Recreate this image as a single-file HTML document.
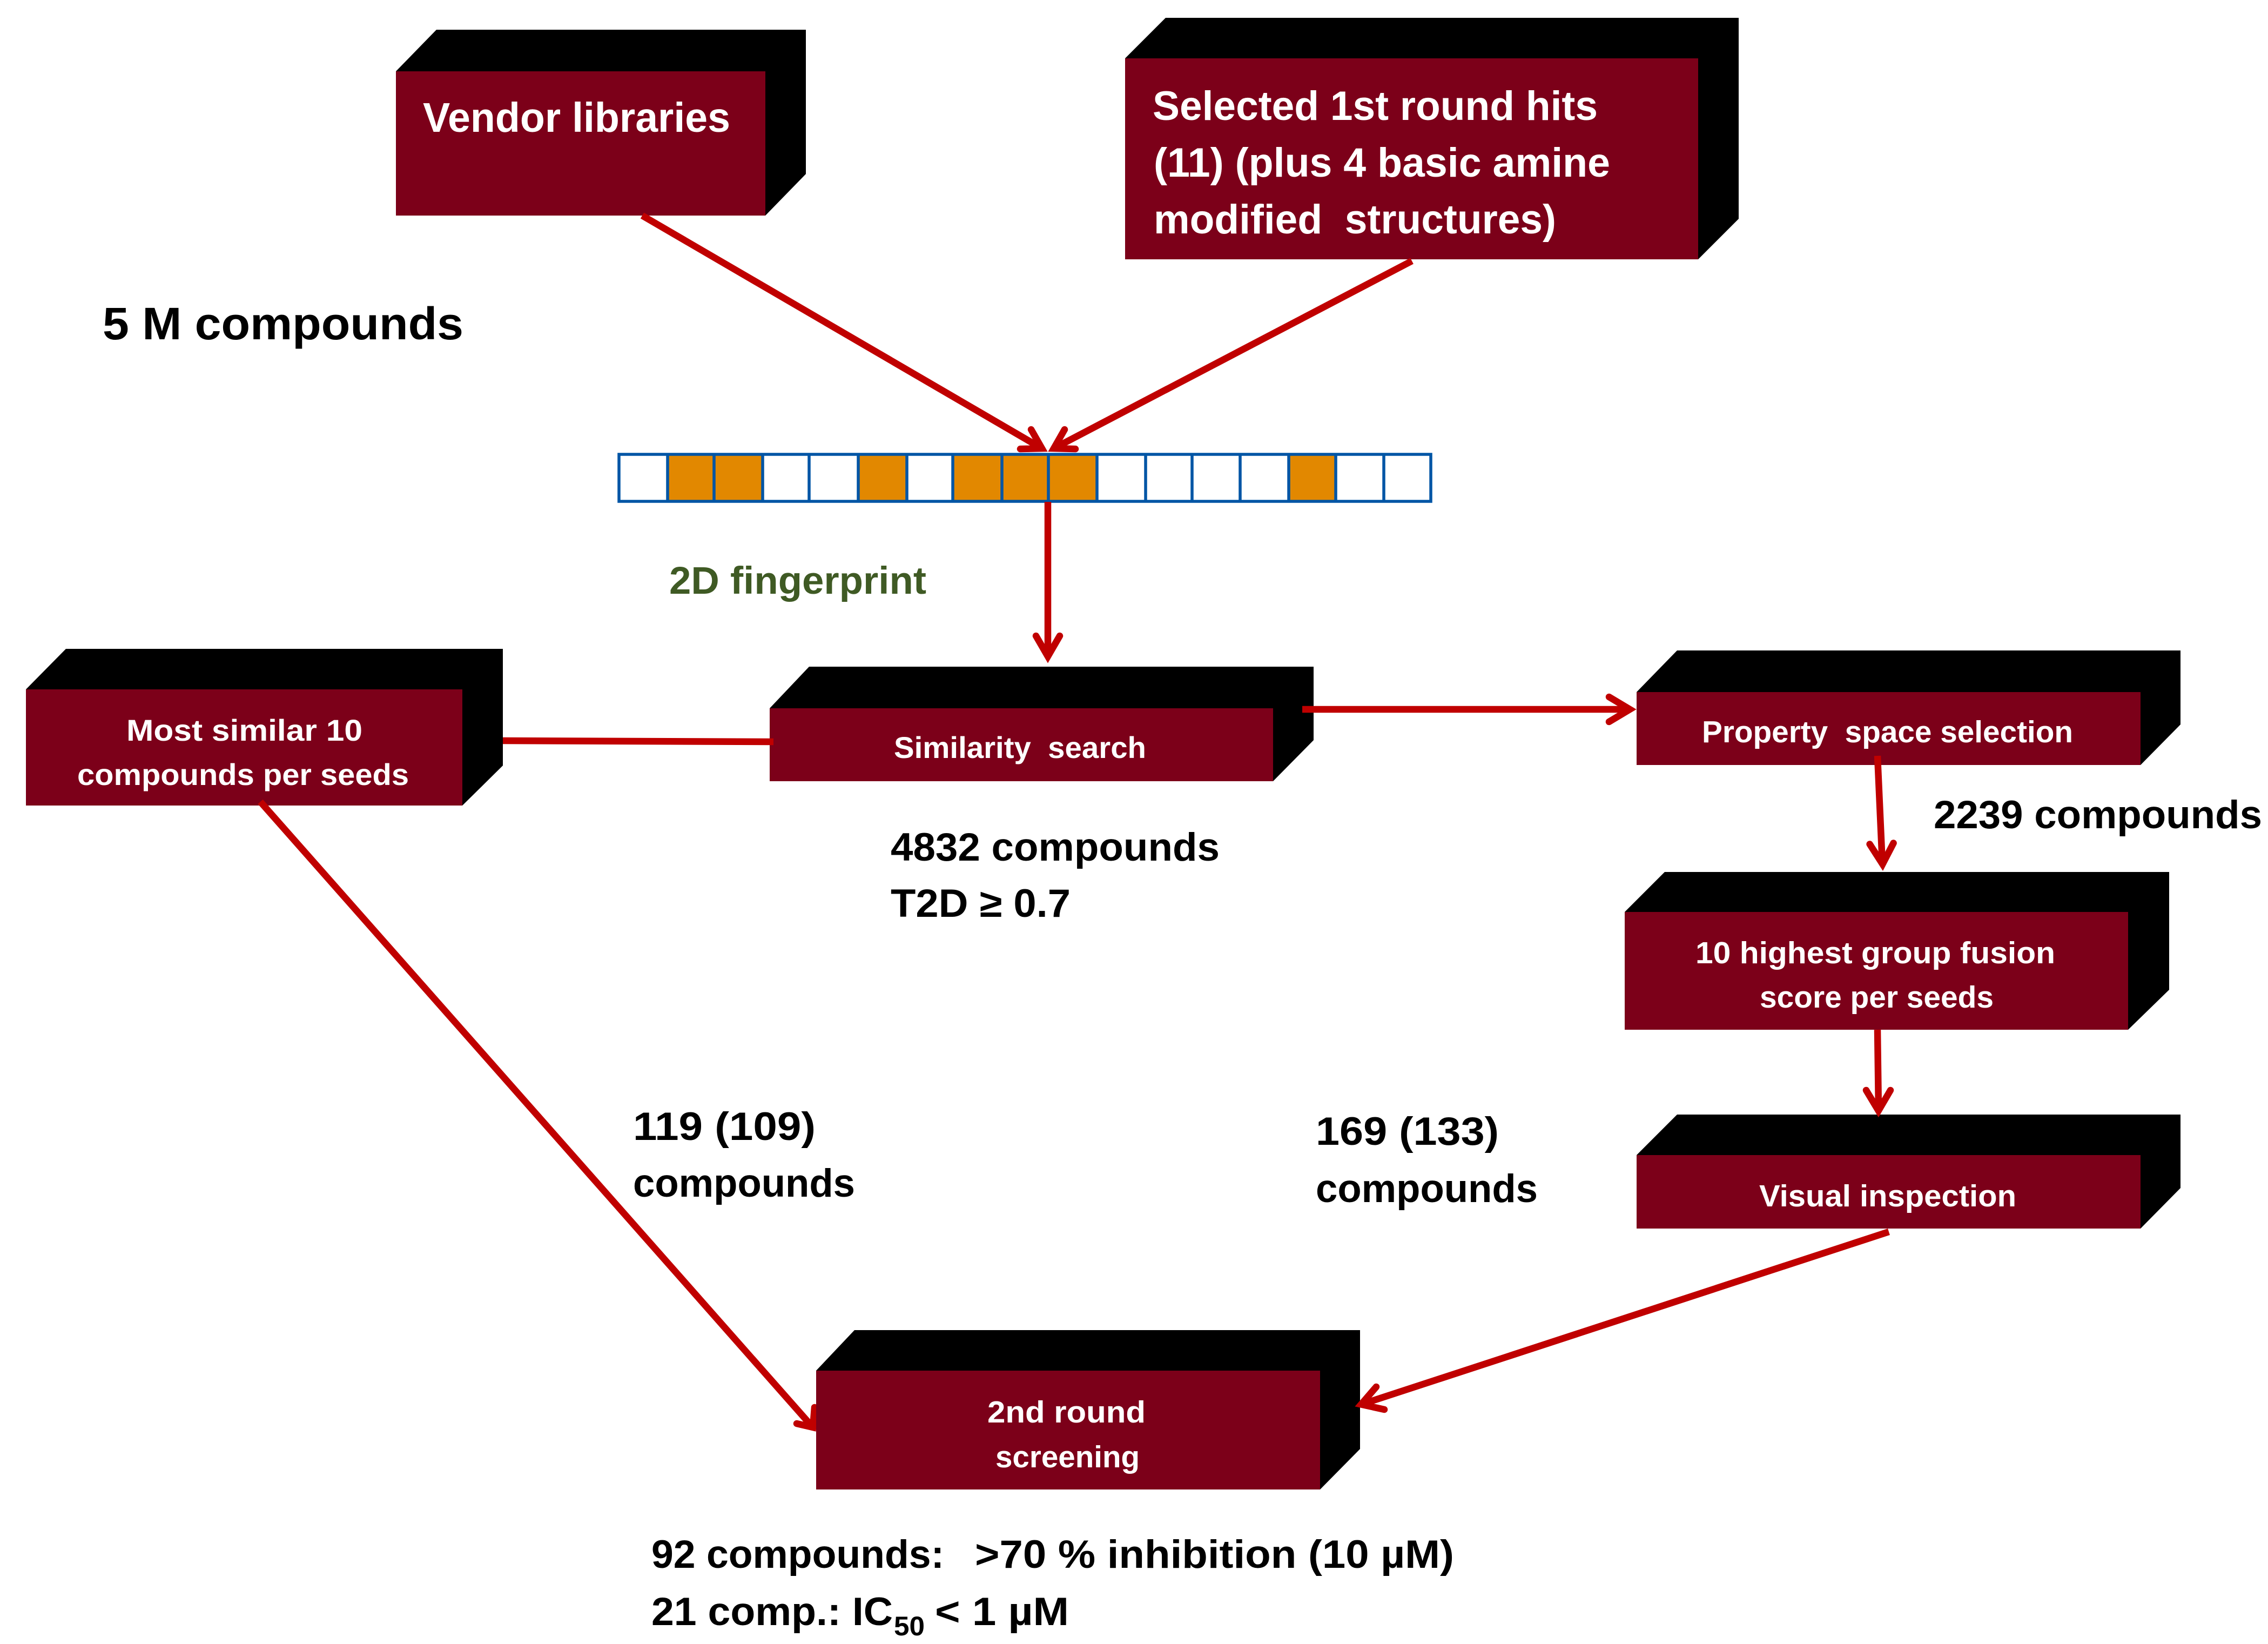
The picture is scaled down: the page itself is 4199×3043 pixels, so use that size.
<!DOCTYPE html>
<html><head><meta charset="utf-8"><style>
html,body{margin:0;padding:0;background:#fff}
svg{display:block}
text{font-family:"Liberation Sans",sans-serif;font-weight:bold;white-space:pre}
.w{fill:#fff}.k{fill:#000}
.f{fill:#7C0019}
.a{fill:none;stroke:#C00000;stroke-width:12.5;stroke-linecap:butt}
.h{fill:none;stroke:#C00000;stroke-width:12.5;stroke-linecap:round;stroke-linejoin:miter;stroke-miterlimit:20}
.c{stroke:#0055A5;stroke-width:5.5}
</style></head><body>
<svg xmlns="http://www.w3.org/2000/svg" width="4199" height="3043" viewBox="0 0 4199 3043">
<rect width="4199" height="3043" fill="#fff"/>

<!-- Vendor -->
<polygon points="733,132 808,55 1492,55 1492,322 1417,399 733,399" fill="#000"/>
<rect class="f" x="733" y="132" width="684" height="267"/>
<!-- Selected -->
<polygon points="2083,108 2158,33 3219,33 3219,405 3144,480 2083,480" fill="#000"/>
<rect class="f" x="2083" y="108" width="1061" height="372"/>
<!-- Most similar -->
<polygon points="48,1276 122,1201 931,1201 931,1417 856,1491 48,1491" fill="#000"/>
<rect class="f" x="48" y="1276" width="808" height="215"/>
<!-- Similarity -->
<polygon points="1425,1311 1498,1234 2432,1234 2432,1370 2357,1446 1425,1446" fill="#000"/>
<rect class="f" x="1425" y="1311" width="932" height="135"/>
<!-- Property -->
<polygon points="3030,1281 3105,1204 4037,1204 4037,1341 3963,1416 3030,1416" fill="#000"/>
<rect class="f" x="3030" y="1281" width="933" height="135"/>
<!-- Fusion -->
<polygon points="3008,1688 3082,1614 4016,1614 4016,1832 3940,1906 3008,1906" fill="#000"/>
<rect class="f" x="3008" y="1688" width="932" height="218"/>
<!-- Visual -->
<polygon points="3030,2138 3105,2063 4037,2063 4037,2199 3963,2274 3030,2274" fill="#000"/>
<rect class="f" x="3030" y="2138" width="933" height="136"/>

<!-- Fingerprint -->
<g fill="#E28800">
<rect x="1236" y="841" width="86" height="87"/><rect x="1322" y="841" width="90" height="87"/>
<rect x="1589" y="841" width="90" height="87"/>
<rect x="1764" y="841" width="91" height="87"/><rect x="1855" y="841" width="86" height="87"/><rect x="1941" y="841" width="90" height="87"/>
<rect x="2386" y="841" width="87" height="87"/>
</g>
<rect x="1146" y="841" width="1503" height="87" fill="none" class="c"/>
<g class="c">
<line x1="1236" y1="841" x2="1236" y2="928"/><line x1="1322" y1="841" x2="1322" y2="928"/><line x1="1412" y1="841" x2="1412" y2="928"/><line x1="1498" y1="841" x2="1498" y2="928"/><line x1="1589" y1="841" x2="1589" y2="928"/><line x1="1679" y1="841" x2="1679" y2="928"/><line x1="1764" y1="841" x2="1764" y2="928"/><line x1="1855" y1="841" x2="1855" y2="928"/><line x1="1941" y1="841" x2="1941" y2="928"/><line x1="2031" y1="841" x2="2031" y2="928"/><line x1="2121" y1="841" x2="2121" y2="928"/><line x1="2207" y1="841" x2="2207" y2="928"/><line x1="2296" y1="841" x2="2296" y2="928"/><line x1="2386" y1="841" x2="2386" y2="928"/><line x1="2473" y1="841" x2="2473" y2="928"/><line x1="2562" y1="841" x2="2562" y2="928"/>
</g>

<!-- Connectors -->
<line class="a" x1="1189" y1="399" x2="1929" y2="830"/>
<polyline class="h" points="1909,795 1929,830 1889,831"/>
<line class="a" x1="2614" y1="483" x2="1951" y2="830"/>
<polyline class="h" points="1971,795 1951,830 1991,831"/>
<line class="a" x1="1940" y1="929" x2="1940" y2="1215"/>
<polyline class="h" points="1918,1177 1940,1215 1962,1177"/>
<line class="a" x1="931" y1="1371" x2="1432" y2="1373"/>
<line class="a" x1="2411" y1="1313" x2="3017" y2="1313"/>
<polyline class="h" points="2979,1290 3017.5,1313 2979,1336"/>
<line class="a" x1="3476" y1="1399" x2="3485" y2="1599"/>
<polyline class="h" points="3505.6,1560.5 3485.4,1599.5 3461.6,1562.5"/>
<line class="a" x1="3476" y1="1906" x2="3478" y2="2056"/>
<polyline class="h" points="3500,2018 3477.8,2056 3455,2018"/>
<line class="a" x1="482" y1="1484" x2="1505" y2="2642"/>
<polyline class="h" points="1508,2605 1505,2642 1475,2635"/>

<!-- 2nd round box -->
<polygon points="1511,2537 1582,2462 2518,2462 2518,2682 2444,2757 1511,2757" fill="#000"/>
<rect class="f" x="1511" y="2537" width="933" height="220"/>

<line class="a" x1="3497" y1="2280" x2="2522" y2="2599"/>
<polyline class="h" points="2548,2567 2520,2599.5 2563,2609"/>

<!-- Box text -->
<g class="w">
<text x="783" y="244" font-size="77" textLength="569" lengthAdjust="spacingAndGlyphs">Vendor libraries</text>
<text x="2134" y="222" font-size="76" textLength="824" lengthAdjust="spacingAndGlyphs">Selected 1st round hits</text>
<text x="2136" y="327" font-size="76" textLength="845" lengthAdjust="spacingAndGlyphs">(11) (plus 4 basic amine</text>
<text x="2136" y="432" font-size="76" textLength="745" lengthAdjust="spacingAndGlyphs">modified  structures)</text>
<text x="234" y="1371" font-size="56" textLength="437" lengthAdjust="spacingAndGlyphs">Most similar 10</text>
<text x="143" y="1453" font-size="56" textLength="614" lengthAdjust="spacingAndGlyphs">compounds per seeds</text>
<text x="1655" y="1403" font-size="56" textLength="467" lengthAdjust="spacingAndGlyphs">Similarity  search</text>
<text x="3151" y="1374" font-size="57" textLength="687" lengthAdjust="spacingAndGlyphs">Property  space selection</text>
<text x="3139" y="1783" font-size="57" textLength="666" lengthAdjust="spacingAndGlyphs">10 highest group fusion</text>
<text x="3258" y="1865" font-size="57" textLength="433" lengthAdjust="spacingAndGlyphs">score per seeds</text>
<text x="3257" y="2233" font-size="57" textLength="476" lengthAdjust="spacingAndGlyphs">Visual inspection</text>
<text x="1828" y="2633" font-size="57" textLength="293" lengthAdjust="spacingAndGlyphs">2nd round</text>
<text x="1843" y="2716" font-size="57" textLength="267" lengthAdjust="spacingAndGlyphs">screening</text>
</g>

<!-- Free labels -->
<g class="k">
<text x="190" y="628" font-size="84" textLength="668" lengthAdjust="spacingAndGlyphs">5 M compounds</text>
<text x="1649" y="1593" font-size="73" textLength="609" lengthAdjust="spacingAndGlyphs">4832 compounds</text>
<text x="1649" y="1697" font-size="73" textLength="333" lengthAdjust="spacingAndGlyphs">T2D ≥ 0.7</text>
<text x="3580" y="1533" font-size="73" textLength="608" lengthAdjust="spacingAndGlyphs">2239 compounds</text>
<text x="1172" y="2110" font-size="73" textLength="338" lengthAdjust="spacingAndGlyphs">119 (109)</text>
<text x="1172" y="2215" font-size="73" textLength="411" lengthAdjust="spacingAndGlyphs">compounds</text>
<text x="2436" y="2119" font-size="73" textLength="339" lengthAdjust="spacingAndGlyphs">169 (133)</text>
<text x="2436" y="2225" font-size="73" textLength="411" lengthAdjust="spacingAndGlyphs">compounds</text>
<text x="1206" y="2902" font-size="73" textLength="542" lengthAdjust="spacingAndGlyphs">92 compounds:</text>
<text x="1805" y="2902" font-size="73" textLength="887" lengthAdjust="spacingAndGlyphs">&gt;70 % inhibition (10 µM)</text>
<text x="1206" y="3008" font-size="73" textLength="447" lengthAdjust="spacingAndGlyphs">21 comp.: IC</text>
<text x="1655" y="3027" font-size="50" textLength="57" lengthAdjust="spacingAndGlyphs">50</text>
<text x="1731" y="3008" font-size="73" textLength="248" lengthAdjust="spacingAndGlyphs">&lt; 1 µM</text>
</g>
<text x="1239" y="1099" font-size="71" fill="#3F5A24" textLength="476" lengthAdjust="spacingAndGlyphs">2D fingerprint</text>
</svg>
</body></html>
